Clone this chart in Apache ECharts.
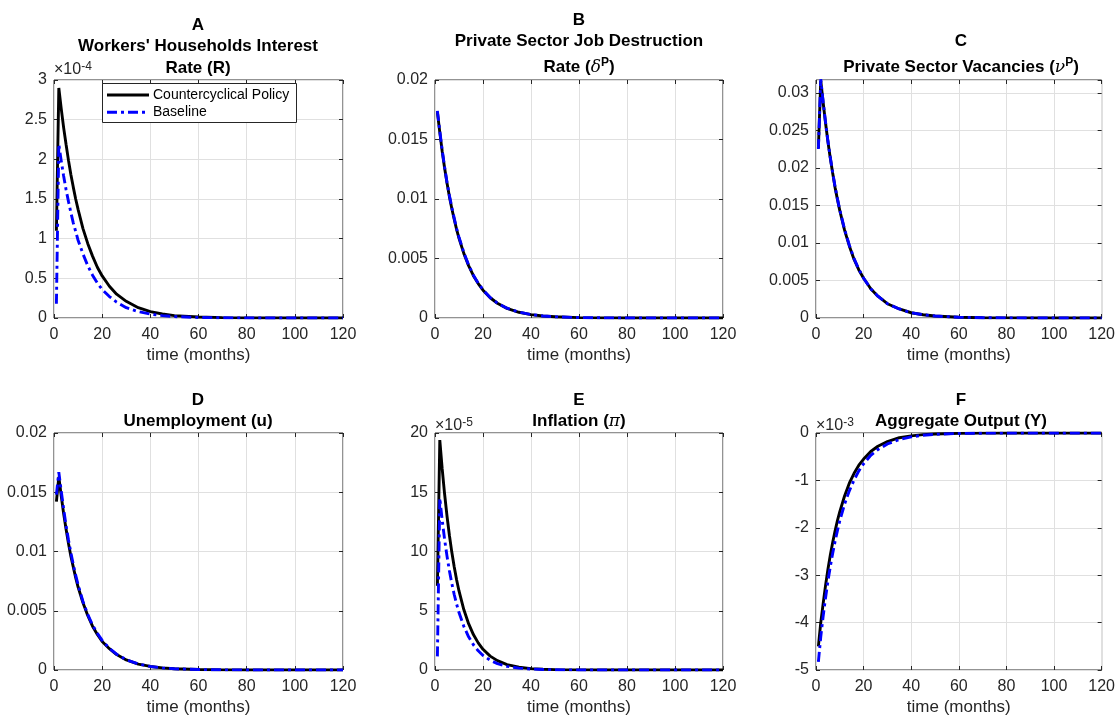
<!DOCTYPE html>
<html><head><meta charset="utf-8">
<script src="https://cdn.jsdelivr.net/npm/echarts@6/dist/echarts.min.js"></script>
<style>html,body{margin:0;padding:0;background:#fff}#c{width:1118px;height:717px}</style>
</head><body><div id="c"></div>
<script>
// ---- data ----
const months = [1,2,3,4,5,6,7,8,9,10,12,14,16,18,20,23,26,30,35,40,45,50,60,70,80,100,120];
const xTicks = [0,20,40,60,80,100,120];

// A: Workers' households interest rate (x1e-4)
const A_cc   = [1.10,2.90,2.64,2.40,2.19,1.99,1.81,1.65,1.50,1.37,1.13,0.94,0.78,0.64,0.53,0.40,0.30,0.21,0.13,0.08,0.05,0.03,0.012,0.005,0.002,0.0003,0.00005];
const A_base = [0.18,2.19,1.98,1.79,1.62,1.47,1.33,1.20,1.09,0.98,0.81,0.66,0.54,0.44,0.36,0.27,0.20,0.13,0.08,0.05,0.03,0.018,0.007,0.0025,0.001,0.0001,0.00002];
// B: private sector job destruction rate
const B_cc   = [0.0173,0.0156,0.0140,0.0126,0.01135,0.0102,0.0092,0.0083,0.00745,0.0067,0.00543,0.0044,0.00356,0.00289,0.00234,0.0017,0.00124,0.00081,0.00048,0.00028,0.00017,0.0001,0.000035,0.000012,0.000004,0.0000005,0.00000006];
const B_base = [0.0174,0.0157,0.0141,0.0127,0.0114,0.0103,0.0093,0.0084,0.0075,0.0068,0.0055,0.00445,0.0036,0.00292,0.00237,0.00172,0.00125,0.00082,0.00049,0.00029,0.00017,0.0001,0.000036,0.000013,0.000004,0.0000005,0.00000006];
// C: private sector vacancies
const C_cc   = [0.0226,0.0316,0.0287,0.0260,0.0235,0.0213,0.0193,0.0174,0.0158,0.0143,0.0117,0.0096,0.0078,0.0064,0.0053,0.0039,0.0029,0.0019,0.0012,0.0007,0.00043,0.00026,0.0001,0.00004,0.000015,0.000002,0.0000003];
const C_base = [0.0225,0.0318,0.0288,0.0261,0.0236,0.0214,0.0194,0.0175,0.0159,0.0144,0.0118,0.0097,0.0079,0.0065,0.0053,0.0039,0.0029,0.0019,0.0012,0.0007,0.00043,0.00026,0.0001,0.00004,0.000015,0.000002,0.0000003];
// D: unemployment
const D_cc   = [0.0142,0.0163,0.0147,0.0132,0.0119,0.0107,0.0096,0.0087,0.0078,0.0070,0.0057,0.0046,0.0037,0.0030,0.0024,0.0018,0.0013,0.00085,0.0005,0.0003,0.00018,0.0001,0.00004,0.000014,0.000005,0.0000006,0.00000008];
const D_base = [0.0148,0.0167,0.0151,0.0136,0.0122,0.0110,0.0099,0.0089,0.0080,0.0072,0.0058,0.0047,0.0038,0.0031,0.0025,0.00182,0.00133,0.00087,0.00051,0.0003,0.00018,0.0001,0.00004,0.000014,0.000005,0.0000006,0.00000008];
// E: inflation (x1e-5)
const E_cc   = [7.1,19.4,16.97,14.85,13.0,11.37,9.95,8.71,7.62,6.67,5.1,3.91,2.99,2.29,1.75,1.17,0.79,0.46,0.24,0.12,0.062,0.032,0.0084,0.0022,0.0006,0.00004,0.000003];
const E_base = [1.15,14.5,12.64,11.02,9.61,8.38,7.31,6.37,5.56,4.85,3.69,2.80,2.13,1.62,1.23,0.82,0.54,0.31,0.16,0.081,0.041,0.021,0.0054,0.0014,0.0004,0.00002,0.000002];
// F: aggregate output (x1e-3)
const F_cc   = [-4.50,-4.00,-3.60,-3.22,-2.88,-2.58,-2.31,-2.07,-1.85,-1.66,-1.33,-1.06,-0.85,-0.68,-0.55,-0.39,-0.28,-0.18,-0.10,-0.06,-0.035,-0.02,-0.007,-0.0025,-0.001,-0.0001,-0.00001];
const F_base = [-4.83,-4.30,-3.87,-3.48,-3.13,-2.82,-2.54,-2.29,-2.06,-1.85,-1.50,-1.22,-0.99,-0.80,-0.65,-0.47,-0.35,-0.23,-0.14,-0.08,-0.048,-0.028,-0.01,-0.0036,-0.0013,-0.0002,-0.00002];

const seriesNames = ['Countercyclical Policy', 'Baseline'];

// ---- layout ----
const FONT = '"Liberation Sans", Arial, Helvetica, sans-serif';
const TXT = '#262626';
const GRIDC = '#e0e0e0';
const CC_STYLE = {color:'#000000', width:2.9, dash:null};
const BASE_STYLE = {color:'#0000ff', width:2.9, dash:[10,4,3,4]};
const cols = [{left:54,width:289},{left:435,width:288},{left:816,width:291}];
const rows = [{top:80,height:238},{top:433,height:239}];

const panels = [
  {cc:A_cc, base:A_base, min:0, max:3, interval:0.5, c:0, r:0},
  {cc:B_cc, base:B_base, min:0, max:0.02, interval:0.005, c:1, r:0},
  {cc:C_cc, base:C_base, min:0, max:0.0317, interval:0.005, c:2, r:0, hideMax:true},
  {cc:D_cc, base:D_base, min:0, max:0.02, interval:0.005, c:0, r:1},
  {cc:E_cc, base:E_base, min:0, max:20, interval:5, c:1, r:1},
  {cc:F_cc, base:F_base, min:-5, max:0, interval:1, c:2, r:1}
];

const grid = [], xAxis = [], yAxis = [], series = [];
panels.forEach((p, i) => {
  const col = cols[p.c], row = rows[p.r];
  grid.push({left:col.left, top:row.top, width:col.width, height:row.height,
    show:true, borderColor:TXT, borderWidth:1, backgroundColor:'#fff', containLabel:false});
  const tick = () => ({show:true, inside:true, length:4, lineStyle:{color:TXT, width:1}});
  const noLine = () => ({show:false, onZero:false});
  xAxis.push({gridIndex:i, type:'value', min:xTicks[0], max:xTicks[xTicks.length-1], interval:xTicks[1]-xTicks[0],
    position:'bottom', axisLine:noLine(), axisTick:tick(),
    axisLabel:{fontSize:16, color:TXT, fontFamily:FONT, margin:9},
    splitLine:{show:true, lineStyle:{color:GRIDC, width:1}},
    name:'time (months)', nameLocation:'middle', nameGap:29,
    nameTextStyle:{fontSize:17, color:TXT, fontFamily:FONT}});
  xAxis.push({gridIndex:i, type:'value', min:xTicks[0], max:xTicks[xTicks.length-1], interval:xTicks[1]-xTicks[0],
    position:'top', axisLine:noLine(), axisTick:tick(), axisLabel:{show:false}, splitLine:{show:false}});
  yAxis.push({gridIndex:i, type:'value', min:p.min, max:p.max, interval:p.interval,
    position:'left', axisLine:noLine(), axisTick:tick(),
    axisLabel:{fontSize:16, color:TXT, fontFamily:FONT, margin:7, showMaxLabel: p.hideMax ? false : null},
    splitLine:{show:true, lineStyle:{color:GRIDC, width:1}}});
  yAxis.push({gridIndex:i, type:'value', min:p.min, max:p.max, interval:p.interval,
    position:'right', axisLine:noLine(), axisTick:tick(), axisLabel:{show:false}, splitLine:{show:false}});
  series.push({type:'line', name:seriesNames[0], xAxisIndex:2*i, yAxisIndex:2*i,
    data: months.map((m,k)=>[m, p.cc[k]]), symbol:'none', showSymbol:false,
    lineStyle:{color:CC_STYLE.color, width:CC_STYLE.width}, itemStyle:{color:CC_STYLE.color}, z:2});
  series.push({type:'line', name:seriesNames[1], xAxisIndex:2*i, yAxisIndex:2*i,
    data: months.map((m,k)=>[m, p.base[k]]), symbol:'none', showSymbol:false,
    lineStyle:{color:BASE_STYLE.color, width:BASE_STYLE.width, type:BASE_STYLE.dash}, itemStyle:{color:BASE_STYLE.color}, z:3});
});

const TB = 'bold 17px ' + FONT;
const titleRich = {
  b:{font:TB, fill:'#000', lineHeight:22},
  g:{fontFamily:'"DejaVu Serif", "Liberation Serif", serif', fontStyle:'italic', fontSize:17, fill:'#000', lineHeight:22},
  s:{fontFamily:FONT, fontWeight:'bold', fontSize:12, fill:'#000', verticalAlign:'top', lineHeight:12}
};
function ttl(x, y, text) {
  return {type:'text', x:x, y:y, z:100, style:{text:text, font:TB, fill:'#000', align:'center', verticalAlign:'middle', rich:titleRich}};
}
const expRich = {
  n:{fontFamily:FONT, fontSize:16, fill:TXT, lineHeight:18},
  s:{fontFamily:FONT, fontSize:12, fill:TXT, verticalAlign:'top', lineHeight:10}
};
function expo(x, y, text) {
  return {type:'text', x:x, y:y, z:100, style:{text:text, fill:TXT, align:'left', verticalAlign:'middle', rich:expRich}};
}

// legend box drawn as graphic (panel A)
const LEG = {x:102, y:83.5, w:194, h:39, lineX0:107, lineX1:149, textX:153, rowY:[95, 112.3]};
const legendGraphic = [
  {type:'rect', z:110, shape:{x:LEG.x+0.5, y:LEG.y, width:LEG.w, height:LEG.h}, style:{fill:'#ffffff', stroke:TXT, lineWidth:1}},
  {type:'line', z:111, shape:{x1:LEG.lineX0, y1:LEG.rowY[0], x2:LEG.lineX1, y2:LEG.rowY[0]}, style:{stroke:CC_STYLE.color, lineWidth:CC_STYLE.width}},
  {type:'text', z:111, x:LEG.textX, y:LEG.rowY[0], style:{text:seriesNames[0], font:'14px '+FONT, fill:'#000', verticalAlign:'middle', align:'left'}},
  {type:'line', z:111, shape:{x1:LEG.lineX0, y1:LEG.rowY[1], x2:LEG.lineX1, y2:LEG.rowY[1]}, style:{stroke:BASE_STYLE.color, lineWidth:BASE_STYLE.width, lineDash:BASE_STYLE.dash}},
  {type:'text', z:111, x:LEG.textX, y:LEG.rowY[1], style:{text:seriesNames[1], font:'14px '+FONT, fill:'#000', verticalAlign:'middle', align:'left'}}
];

const graphic = [
  ttl(198, 25, '{b|A}'),
  ttl(198, 46.5, "{b|Workers' Households Interest}"),
  ttl(198, 68, '{b|Rate (R)}'),
  ttl(579, 20.7, '{b|B}'),
  ttl(579, 41.7, '{b|Private Sector Job Destruction}'),
  ttl(579, 67.5, '{b|Rate (}{g|δ}{s|P}{b|)}'),
  ttl(961, 41.7, '{b|C}'),
  ttl(961, 67.5, '{b|Private Sector Vacancies (}{g|ν}{s|P}{b|)}'),
  ttl(198, 400.7, '{b|D}'),
  ttl(198, 421.7, '{b|Unemployment (u)}'),
  ttl(579, 400.7, '{b|E}'),
  ttl(579, 421.7, '{b|Inflation (}{g|π}{b|)}'),
  ttl(961, 400.7, '{b|F}'),
  ttl(961, 421.7, '{b|Aggregate Output (Y)}'),
  expo(54, 70, '{n|×10}{s|-4}'),
  expo(435, 425.5, '{n|×10}{s|-5}'),
  expo(816, 425.5, '{n|×10}{s|-3}')
].concat(legendGraphic);

const chart = echarts.init(document.getElementById('c'), null, {renderer:'canvas'});
chart.setOption({
  animation:false,
  backgroundColor:'#ffffff',
  grid, xAxis, yAxis, series, graphic
});
</script>
</body></html>
